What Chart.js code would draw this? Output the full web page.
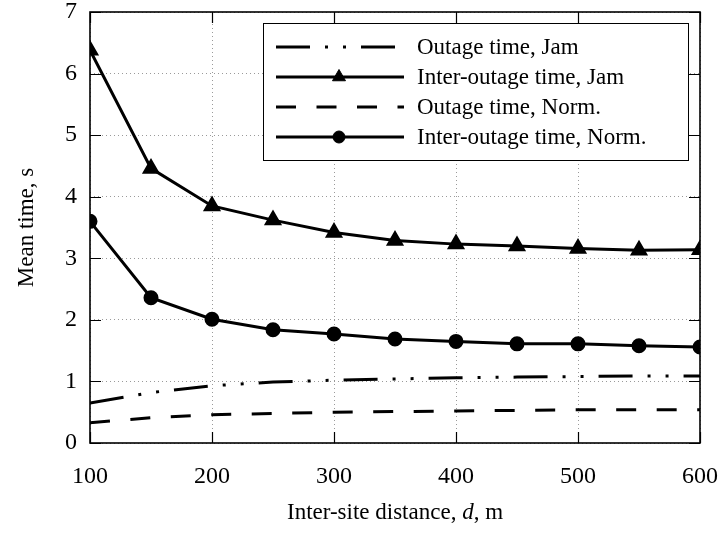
<!DOCTYPE html>
<html>
<head>
<meta charset="utf-8">
<script src="https://cdn.jsdelivr.net/npm/chart.js@4/dist/chart.umd.min.js"></script>
<style>
html,body{margin:0;padding:0;background:#fff;}
canvas{display:block;}
</style>
</head>
<body>
<canvas id="c" width="725" height="537"></canvas>
<script>
const distances = [100, 150, 200, 250, 300, 350, 400, 450, 500, 550, 600];
const outageJam = [0.65, 0.82, 0.93, 0.99, 1.02, 1.04, 1.06, 1.07, 1.08, 1.09, 1.09];
const interOutageJam = [6.38, 4.46, 3.85, 3.62, 3.42, 3.29, 3.23, 3.20, 3.16, 3.13, 3.14];
const outageNorm = [0.33, 0.41, 0.46, 0.48, 0.50, 0.51, 0.52, 0.53, 0.54, 0.54, 0.54];
const interOutageNorm = [3.60, 2.36, 2.01, 1.84, 1.77, 1.69, 1.65, 1.61, 1.61, 1.58, 1.56];
const seriesLabels = ['Outage time, Jam', 'Inter-outage time, Jam', 'Outage time, Norm.', 'Inter-outage time, Norm.'];
const xTickValues = [100, 200, 300, 400, 500, 600];
const yTickValues = [0, 1, 2, 3, 4, 5, 6, 7];
const xTitleParts = ['Inter-site distance, ', 'd', ', m'];
const yTitle = 'Mean time, s';

const FONT = "'Liberation Serif', 'Times New Roman', serif";
const pts = arr => arr.map((v, i) => ({x: distances[i], y: v}));
const zeroPad = s => { s.paddingTop = 0; s.paddingBottom = 0; s.paddingLeft = 0; s.paddingRight = 0; };

const framePlugin = {
  id: 'frame',
  beforeDatasetsDraw(chart) {
    const {ctx, chartArea: a, scales} = chart;
    ctx.save();
    ctx.strokeStyle = '#000';
    ctx.lineWidth = 1.2;
    ctx.setLineDash([]);
    ctx.beginPath();
    const tl = 11;
    scales.x.ticks.forEach(t => {
      const px = Math.round(scales.x.getPixelForValue(t.value)) + 0.5;
      ctx.moveTo(px, a.bottom); ctx.lineTo(px, a.bottom - tl);
      ctx.moveTo(px, a.top); ctx.lineTo(px, a.top + tl);
    });
    scales.y.ticks.forEach(t => {
      const py = Math.round(scales.y.getPixelForValue(t.value)) + 0.5;
      ctx.moveTo(a.left, py); ctx.lineTo(a.left + tl, py);
      ctx.moveTo(a.right, py); ctx.lineTo(a.right - tl, py);
    });
    ctx.stroke();
    ctx.lineWidth = 1.6;
    ctx.strokeRect(a.left, a.top, a.right - a.left, a.bottom - a.top);
    ctx.restore();
  },
  afterDraw(chart) {
    const {ctx, chartArea: a} = chart;
    ctx.save();
    // legend
    const lx = 263, ly = 23, lw = 425, lh = 137;
    ctx.fillStyle = '#fff';
    ctx.fillRect(lx, ly, lw, lh);
    ctx.strokeStyle = '#000';
    ctx.lineWidth = 1;
    ctx.setLineDash([]);
    ctx.strokeRect(lx + 0.5, ly + 0.5, lw, lh);
    chart.data.datasets.forEach((ds, i) => {
      const y = 47 + 30 * i;
      ctx.save();
      ctx.strokeStyle = ds.borderColor;
      ctx.lineWidth = ds.borderWidth;
      ctx.setLineDash(ds.borderDash || []);
      ctx.beginPath();
      ctx.moveTo(276, y); ctx.lineTo(404, y);
      ctx.stroke();
      ctx.restore();
      if (ds.pointRadius > 0) {
        ctx.save();
        ctx.fillStyle = ds.pointBackgroundColor;
        ctx.strokeStyle = ds.pointBorderColor;
        ctx.lineWidth = 1;
        ctx.setLineDash([]);
        Chart.helpers.drawPoint(ctx, {pointStyle: ds.pointStyle, radius: ds.pointRadius, rotation: 0, borderWidth: 1}, 339, y);
        ctx.restore();
      }
      ctx.fillStyle = '#000';
      ctx.font = '23px ' + FONT;
      ctx.textBaseline = 'middle';
      ctx.textAlign = 'left';
      ctx.fillText(ds.label, 417, y + 1);
    });
    // x title
    ctx.textBaseline = 'middle';
    ctx.textAlign = 'left';
    const fonts = ['23px ' + FONT, 'italic 23px ' + FONT, '23px ' + FONT];
    let total = 0;
    const widths = xTitleParts.map((p, i) => { ctx.font = fonts[i]; const w = ctx.measureText(p).width; total += w; return w; });
    let x = (a.left + a.right) / 2 - total / 2;
    xTitleParts.forEach((p, i) => { ctx.font = fonts[i]; ctx.fillText(p, x, 513); x += widths[i]; });
    // y title
    ctx.save();
    ctx.translate(27, (a.top + a.bottom) / 2);
    ctx.rotate(-Math.PI / 2);
    ctx.textAlign = 'center';
    ctx.font = '23px ' + FONT;
    ctx.fillText(yTitle, 0, 0);
    ctx.restore();
    ctx.restore();
  }
};

const baseDs = {
  borderColor: '#000',
  backgroundColor: '#000',
  pointBackgroundColor: '#000',
  pointBorderColor: '#000',
  borderWidth: 3,
  tension: 0,
  fill: false,
  pointHoverRadius: 0
};

new Chart(document.getElementById('c'), {
  type: 'line',
  data: {
    datasets: [
      Object.assign({}, baseDs, {label: seriesLabels[0], data: pts(outageJam), borderDash: [34, 15, 3, 15, 3, 15], pointRadius: 0}),
      Object.assign({}, baseDs, {label: seriesLabels[1], data: pts(interOutageJam), borderDash: [], pointStyle: 'triangle', pointRadius: 7.5}),
      Object.assign({}, baseDs, {label: seriesLabels[2], data: pts(outageNorm), borderDash: [20, 20.5], pointRadius: 0}),
      Object.assign({}, baseDs, {label: seriesLabels[3], data: pts(interOutageNorm), borderDash: [], pointStyle: 'circle', pointRadius: 6})
    ]
  },
  options: {
    responsive: false,
    animation: false,
    devicePixelRatio: 1,
    layout: {padding: {top: 12, right: 25, left: 0, bottom: 0}},
    plugins: {legend: {display: false}, tooltip: {enabled: false}},
    scales: {
      x: {
        type: 'linear',
        min: 100, max: 600,
        afterBuildTicks: s => { s.ticks = xTickValues.map(v => ({value: v})); },
        afterFit: s => { s.height = 94; zeroPad(s); },
        grid: {color: '#9a9a9a', lineWidth: 1, drawTicks: false},
        border: {display: false, dash: [1, 3]},
        ticks: {color: '#000', font: {family: FONT, size: 24}, padding: 19, maxRotation: 0}
      },
      y: {
        type: 'linear',
        min: 0, max: 7,
        afterBuildTicks: s => { s.ticks = yTickValues.map(v => ({value: v})); },
        afterFit: s => { s.width = 90; zeroPad(s); },
        grid: {color: '#9a9a9a', lineWidth: 1, drawTicks: false},
        border: {display: false, dash: [1, 3]},
        ticks: {color: '#000', font: {family: FONT, size: 24}, padding: 13}
      }
    }
  },
  plugins: [framePlugin]
});
</script>
</body>
</html>
